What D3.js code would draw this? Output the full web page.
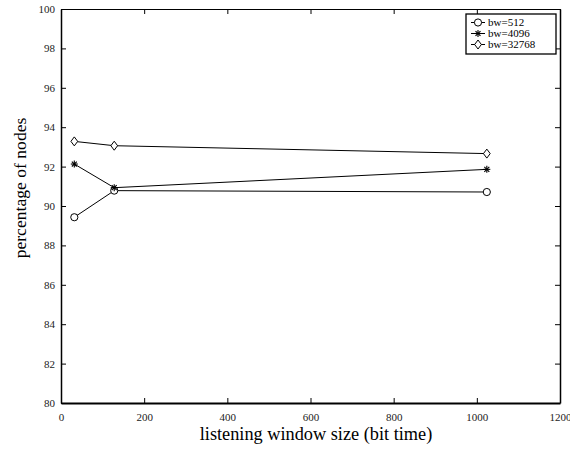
<!DOCTYPE html>
<html>
<head>
<meta charset="utf-8">
<script src="https://cdn.jsdelivr.net/npm/d3@7"></script>
<style>
  body { margin: 0; background: #fff; }
  svg, svg text { font-family: "Liberation Serif", "Times New Roman", serif; }
</style>
</head>
<body>
<svg width="570" height="449"></svg>
<script>
var windowSizes = [32, 128, 1024];
var bw512 = [89.43, 90.78, 90.71];
var bw4096 = [92.13, 90.93, 91.86];
var bw32768 = [93.28, 93.06, 92.66];
var seriesNames = ['bw=512', 'bw=4096', 'bw=32768'];
var xTicks = [0, 200, 400, 600, 800, 1000, 1200];
var yTicks = [80, 82, 84, 86, 88, 90, 92, 94, 96, 98, 100];

var svg = d3.select('svg'),
    plotL = 61, plotR = 560, plotT = 9, plotB = 403;

var x = d3.scaleLinear().domain([0, 1200]).range([plotL, plotR]),
    y = d3.scaleLinear().domain([80, 100]).range([plotB, plotT]);

var series = [
    { name: seriesNames[0], values: bw512, marker: 'circle' },
    { name: seriesNames[1], values: bw4096, marker: 'star' },
    { name: seriesNames[2], values: bw32768, marker: 'diamond' }
];

// axes with inward ticks, mirrored on top / right
function styleAxis(g) {
    g.attr('font-family', null);
    g.selectAll('path').attr('stroke', '#000');
    g.selectAll('line').attr('stroke', '#000');
    g.selectAll('text').attr('fill', '#222').style('font-size', '11px');
}

svg.append('g').attr('transform', 'translate(0,' + plotB + ')')
    .call(d3.axisBottom(x).tickValues(xTicks).tickSizeInner(-5).tickSizeOuter(0)
        .tickPadding(10).tickFormat(d3.format('d')))
    .call(styleAxis)
    .call(function (g) { g.select('path').attr('stroke-width', 2); });

svg.append('g').attr('transform', 'translate(0,' + plotT + ')')
    .call(d3.axisTop(x).tickValues(xTicks).tickSizeInner(-5).tickSizeOuter(0).tickFormat(''))
    .call(styleAxis);

svg.append('g').attr('transform', 'translate(' + plotL + ',0)')
    .call(d3.axisLeft(y).tickValues(yTicks).tickSizeInner(-5).tickSizeOuter(0)
        .tickPadding(6).tickFormat(d3.format('d')))
    .call(styleAxis)
    .call(function (g) { g.select('path').attr('stroke-width', 1.5); });

svg.append('g').attr('transform', 'translate(' + plotR + ',0)')
    .call(d3.axisRight(y).tickValues(yTicks).tickSizeInner(-5).tickSizeOuter(0).tickFormat(''))
    .call(styleAxis)
    .call(function (g) { g.select('path').attr('stroke-width', 1.5); });

// axis labels
svg.append('text')
    .attr('x', 316).attr('y', 440)
    .attr('text-anchor', 'middle')
    .style('font-size', '18.3px')
    .text('listening window size (bit time)');

svg.append('text')
    .attr('transform', 'translate(26,188) rotate(-90)')
    .attr('text-anchor', 'middle')
    .style('font-size', '17.6px')
    .text('percentage of nodes');

function drawMarker(g, type, cx, cy) {
    if (type === 'circle') {
        g.append('circle').attr('cx', cx).attr('cy', cy).attr('r', 3.6)
            .attr('fill', '#fff').attr('stroke', '#000').attr('stroke-width', 1);
    } else if (type === 'diamond') {
        var r = 4.5;
        g.append('path')
            .attr('d', 'M' + cx + ',' + (cy - r) + 'L' + (cx + r * 0.75) + ',' + cy +
                'L' + cx + ',' + (cy + r) + 'L' + (cx - r * 0.75) + ',' + cy + 'Z')
            .attr('fill', '#fff').attr('stroke', '#000').attr('stroke-width', 1);
    } else {
        var s = 3.5;
        for (var k = 0; k < 4; k++) {
            var a = k * Math.PI / 4;
            g.append('line')
                .attr('x1', cx - s * Math.cos(a)).attr('y1', cy - s * Math.sin(a))
                .attr('x2', cx + s * Math.cos(a)).attr('y2', cy + s * Math.sin(a))
                .attr('stroke', '#000').attr('stroke-width', 1.1);
        }
    }
}

var line = d3.line()
    .x(function (d, i) { return x(windowSizes[i]); })
    .y(function (d) { return y(d); });

for (var i = 0; i < series.length; i++) {
    var s = series[i],
        g = svg.append('g');
    g.append('path').attr('d', line(s.values))
        .attr('fill', 'none').attr('stroke', '#000').attr('stroke-width', 1);
    for (var j = 0; j < s.values.length; j++) {
        drawMarker(g, s.marker, x(windowSizes[j]), y(s.values[j]));
    }
}

// legend
var legend = svg.append('g');
legend.append('rect')
    .attr('x', 466).attr('y', 14).attr('width', 90).attr('height', 40)
    .attr('fill', '#fff').attr('stroke', '#000').attr('stroke-width', 1.3);

for (var i = 0; i < series.length; i++) {
    var ly = 22.5 + i * 11;
    legend.append('line')
        .attr('x1', 471).attr('x2', 485).attr('y1', ly).attr('y2', ly)
        .attr('stroke', '#000');
    drawMarker(legend, series[i].marker, 478, ly);
    legend.append('text')
        .attr('x', 488).attr('y', ly + 3.5)
        .style('font-size', '11px')
        .text(series[i].name);
}
</script>
</body>
</html>
